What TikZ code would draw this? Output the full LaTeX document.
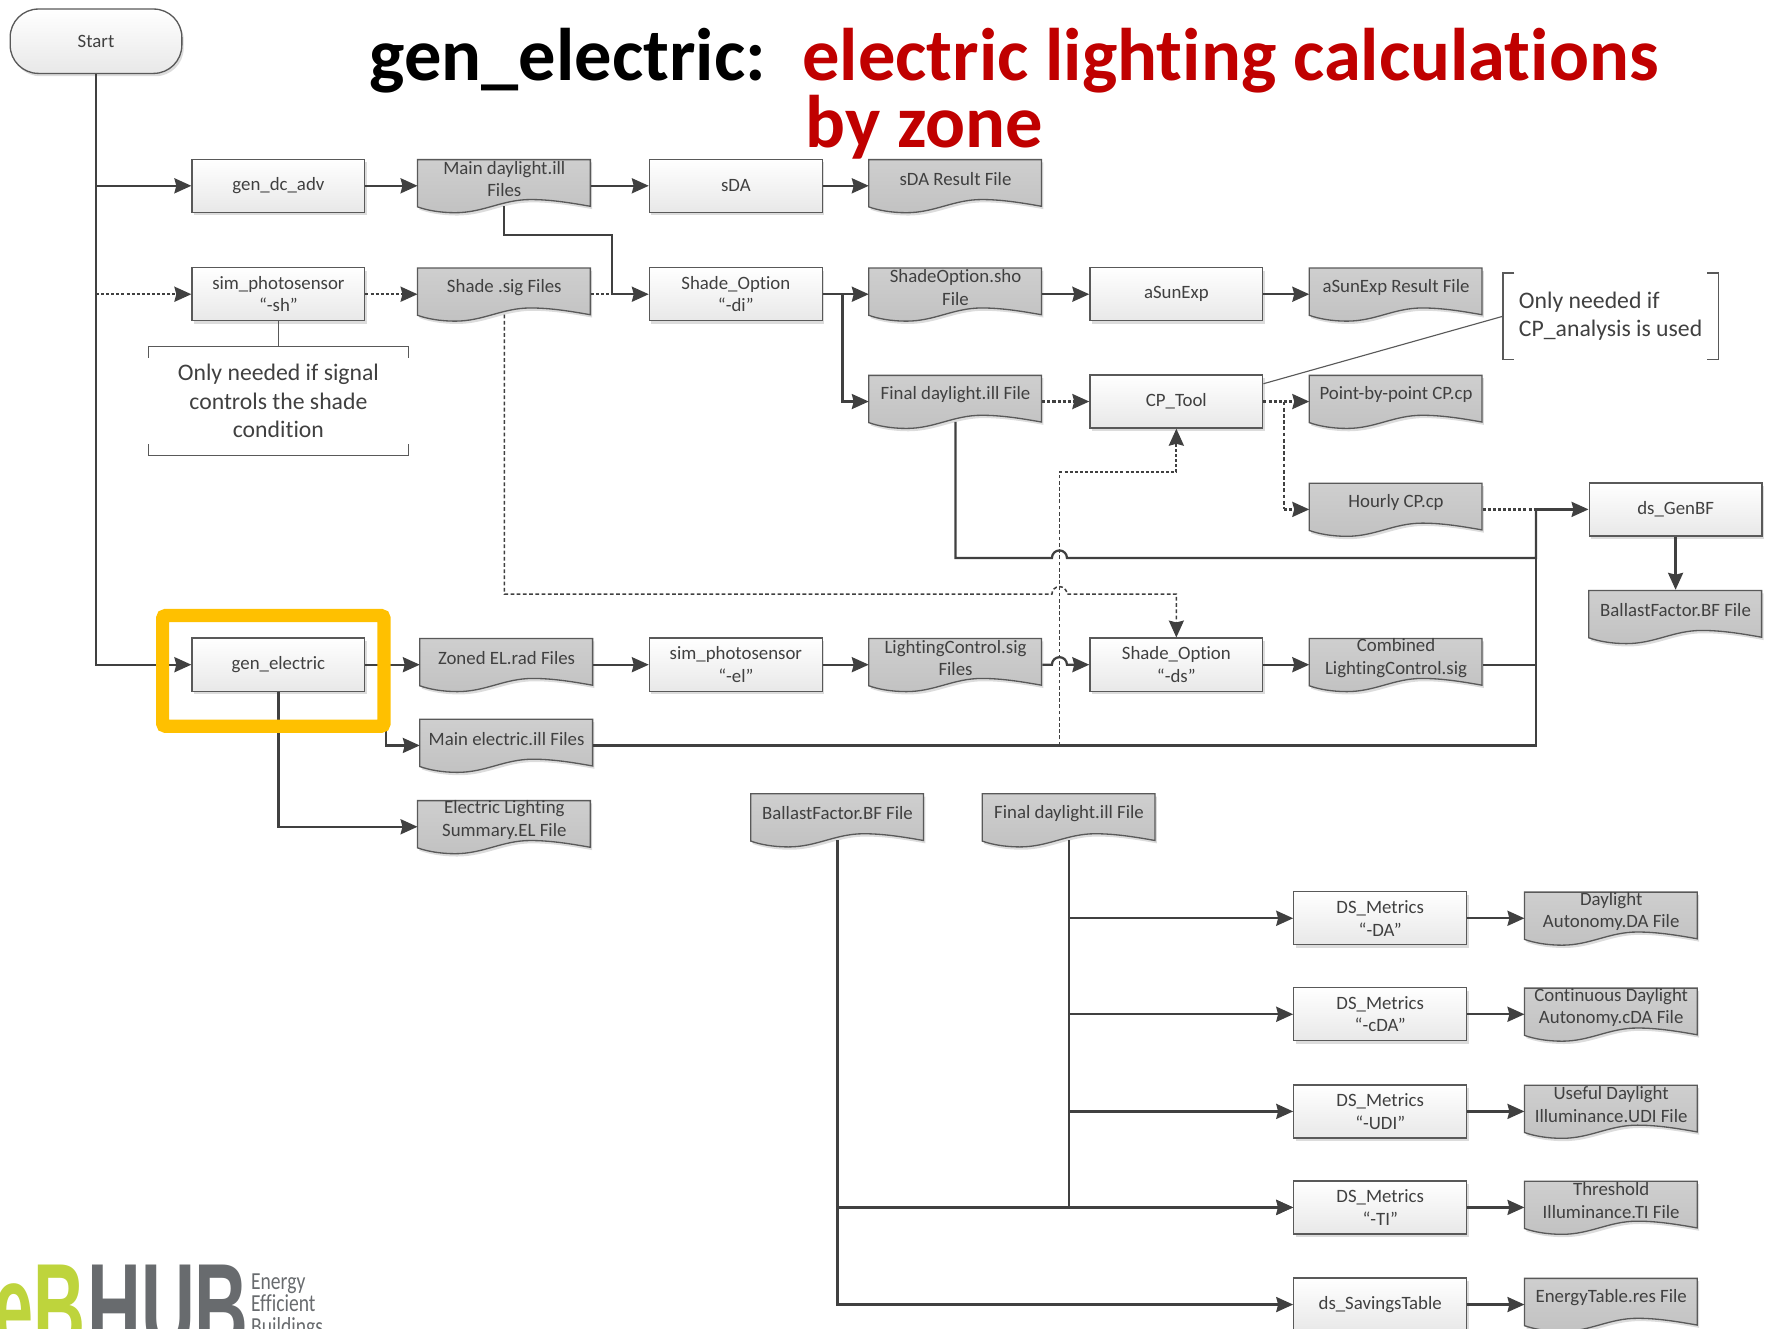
\documentclass[tikz,border=0pt]{standalone}
\usepackage{fontspec}
\setmainfont[Ligatures=CommonOff]{Carlito}
\newfontfamily\logofont{Liberation Sans}
\usetikzlibrary{arrows.meta,shadows}

% wavy outline of a document box, from its lower left corner
\newcommand{\docoutline}{(0pt,28.2pt) -- (91.8pt,28.2pt) -- (91.8pt,3.4pt) .. controls (80pt,5.5pt) and (70pt,7pt) .. (60pt,7pt) .. controls (45pt,7pt) and (35pt,0pt) .. (20pt,0pt) .. controls (12pt,0pt) and (5pt,1.3pt) .. (0pt,3.1pt) -- cycle}

\begin{document}
\begin{tikzpicture}[x=0.6pt,y=-0.6pt,
    softshadow/.style={drop shadow={shadow xshift=1pt,shadow yshift=-1.5pt,fill=black!30,opacity=0.45}},
    procbox/.style={rectangle,draw=BoxLine,line width=0.7pt,top color=white,bottom color=black!9,softshadow,
        minimum width=91.8pt,minimum height=28.2pt,inner sep=0pt,align=center,text=BoxText,
        font=\fontsize{10}{12}\selectfont},
    startbox/.style={procbox,minimum width=91.2pt,minimum height=34.2pt,rounded corners=15pt},
    docshape/.style={draw=BoxLine,line width=0.7pt,top color=black!19,bottom color=black!24,softshadow},
    docbox/.style={rectangle,minimum width=91.8pt,minimum height=28.2pt,inner sep=0pt,
        append after command={\pgfextra{\draw[docshape,shift={(\tikzlastnode.south west)}] \docoutline;}}},
    doctext/.style={align=center,yshift=3.6pt,inner sep=0pt,text=BoxText,font=\fontsize{10}{12}\selectfont},
    notebox/.style={inner sep=0pt,text=BoxText,font=\fontsize{12.6}{15.3}\selectfont},
    noteline/.style={draw=BoxLine,line width=0.6pt},
    flow/.style={draw=FlowLine,line width=1.2pt},
    flowarrow/.style={flow,-{Stealth[length=9pt,width=8pt,inset=1pt]}},
    dotflow/.style={flow,dash pattern=on 1.6pt off 1.1pt},
    dotarrow/.style={flowarrow,dash pattern=on 1.6pt off 1.1pt},
    thindot/.style={draw=FlowLine,line width=0.8pt,dash pattern=on 2pt off 1.3pt},
    thinarrow/.style={thindot,-{Stealth[length=9pt,width=8pt,inset=1pt]}},
    hilitebox/.style={draw=Hilite,line width=7pt,rounded corners=1.5pt,minimum width=117.6pt,minimum height=58.8pt,inner sep=0pt}]

    % colours
    \definecolor{BoxLine}{RGB}{89, 89, 89}
    \definecolor{BoxText}{RGB}{64, 64, 64}
    \definecolor{FlowLine}{RGB}{64, 64, 64}
    \definecolor{Hilite}{RGB}{255, 192, 0}
    \definecolor{TitleRed}{RGB}{192, 0, 0}
    \definecolor{LogoGreen}{RGB}{190, 212, 60}
    \definecolor{LogoGrey}{RGB}{104, 107, 110}

    \useasboundingbox (0,0) rectangle (1568,1176);

    % title
    \node[anchor=base west,inner sep=0pt,font=\fontsize{39.6}{44}\bfseries\selectfont] (titlename) at (327,71.5) {gen\_electric:};
    \node[anchor=base west,inner sep=0pt,text=TitleRed,font=\fontsize{39.6}{44}\bfseries\selectfont] (titleline) at (710,71.5) {electric lighting calculations};
    \node[anchor=base west,inner sep=0pt,text=TitleRed,font=\fontsize{39.6}{44}\bfseries\selectfont] (titlezone) at (713,131) {by zone};

    % upper rows
    \node[startbox] (start) at (85,36.5) {Start};
    \node[procbox] (gendc) at (246.5,164.5) {gen\_dc\_adv};
    \node[docbox,label={[doctext]center:Main daylight.ill\\Files}] (maindl) at (446.5,164.5) {};
    \node[procbox] (sda) at (651.5,164.5) {sDA};
    \node[docbox,label={[doctext]center:sDA Result File}] (sdares) at (846,164.5) {};

    \node[procbox] (simsh) at (246.5,260.5) {sim\_photosensor\\“-sh”};
    \node[docbox,label={[doctext]center:Shade .sig Files}] (shadesig) at (446.5,260.5) {};
    \node[procbox] (optdi) at (651.5,260.5) {Shade\_Option\\“-di”};
    \node[docbox,label={[doctext]center:ShadeOption.sho\\File}] (shadesho) at (846,260.5) {};
    \node[procbox] (asun) at (1041.5,260.5) {aSunExp};
    \node[docbox,label={[doctext]center:aSunExp Result File}] (asunres) at (1236,260.5) {};

    \node[docbox,label={[doctext]center:Final daylight.ill File}] (finaldl) at (846,355.5) {};
    \node[procbox] (cptool) at (1041.5,355.5) {CP\_Tool};
    \node[docbox,label={[doctext]center:Point-by-point CP.cp}] (pointcp) at (1236,355.5) {};
    \node[docbox,label={[doctext]center:Hourly CP.cp}] (hourly) at (1236,451) {};
    \node[procbox] (genbf) at (1483.5,451) {ds\_GenBF};
    \node[docbox,label={[doctext]center:BallastFactor.BF File}] (bfres) at (1483.5,546) {};

    % notes
    \node[notebox,align=center,minimum width=137.4pt,minimum height=57.6pt] (notesh) at (246.5,355) {Only needed if signal\\controls the shade\\condition};
    \node[notebox,align=left,minimum width=114pt,minimum height=45.6pt] (notecp) at (1426,280) {Only needed if\\CP\_analysis is used};

    % electric row
    \node[procbox] (genel) at (246.5,588.5) {gen\_electric};
    \node[docbox,label={[doctext]center:Zoned EL.rad Files}] (zoned) at (448.5,588.5) {};
    \node[procbox] (simel) at (651.5,588.5) {sim\_photosensor\\“-el”};
    \node[docbox,label={[doctext]center:LightingControl.sig\\Files}] (lightsig) at (846,588.5) {};
    \node[procbox] (optds) at (1041.5,588.5) {Shade\_Option\\“-ds”};
    \node[docbox,label={[doctext]center:Combined\\LightingControl.sig}] (combined) at (1236,588.5) {};
    \node[docbox,label={[doctext]center:Main electric.ill Files}] (mainel) at (448.5,660) {};
    \node[docbox,label={[doctext]center:Electric Lighting\\Summary.EL File}] (summary) at (446.5,732) {};

    % metrics
    \node[docbox,label={[doctext]center:BallastFactor.BF File}] (bfin) at (741.5,726) {};
    \node[docbox,label={[doctext]center:Final daylight.ill File}] (fdin) at (946.5,726) {};
    \node[procbox] (dsda) at (1222,813) {DS\_Metrics\\“-DA”};
    \node[docbox,label={[doctext]center:Daylight\\Autonomy.DA File}] (dares) at (1426.5,813) {};
    \node[procbox] (dscda) at (1222,898) {DS\_Metrics\\“-cDA”};
    \node[docbox,label={[doctext]center:Continuous Daylight\\Autonomy.cDA File}] (cdares) at (1426.5,898) {};
    \node[procbox] (dsudi) at (1222,984) {DS\_Metrics\\“-UDI”};
    \node[docbox,label={[doctext]center:Useful Daylight\\Illuminance.UDI File}] (udires) at (1426.5,984) {};
    \node[procbox] (dsti) at (1222,1069) {DS\_Metrics\\“-TI”};
    \node[docbox,label={[doctext]center:Threshold\\Illuminance.TI File}] (tires) at (1426.5,1069) {};
    \node[procbox] (saving) at (1222,1155) {ds\_SavingsTable};
    \node[docbox,label={[doctext]center:EnergyTable.res File}] (energy) at (1426.5,1155) {};

    % bends and line hops
    \coordinate (jogdi) at (542,208);
    \coordinate (splitdi) at (746,260.5);
    \coordinate (splitcp) at (1137,355.5);
    \coordinate (bus) at (1360,451);
    \coordinate (hopbus) at (938,494);
    \coordinate (hopdot) at (938,526);
    \coordinate (hopel) at (938,588.5);
    \coordinate (cpdrop) at (938,660);
    \coordinate (cpturn) at (938,418);
    \coordinate (splitel) at (342,588.5);

    % start line
    \draw[flowarrow] (start.south) |- (genel.west);
    \draw[flowarrow] (start.south |- gendc.west) -- (gendc.west);
    \draw[dotarrow] (start.south |- simsh.west) -- (simsh.west);

    % first rows
    \draw[flowarrow] (gendc.east) -- (maindl.west);
    \draw[flowarrow] (maindl.east) -- (sda.west);
    \draw[flowarrow] (sda.east) -- (sdares.west);
    \draw[dotarrow] (simsh.east) -- (shadesig.west);
    \draw[dotflow] (shadesig.east) -- (jogdi |- optdi.west);
    \draw[flowarrow] ([yshift=3.5pt]maindl.south) |- (jogdi) |- (optdi.west);
    \draw[flowarrow] (optdi.east) -- (shadesho.west);
    \draw[flowarrow] (splitdi) |- (finaldl.west);
    \draw[flowarrow] (shadesho.east) -- (asun.west);
    \draw[flowarrow] (asun.east) -- (asunres.west);
    \draw[dotarrow] (finaldl.east) -- (cptool.west);
    \draw[dotarrow] (cptool.east) -- (pointcp.west);
    \draw[thindot] (splitcp) -- (splitcp |- hourly.west);
    \draw[dotarrow] (splitcp |- hourly.west) -- (hourly.west);
    \draw[dotflow] (hourly.east) -- (bus);
    \draw[flowarrow] (bus) -- (genbf.west);
    \draw[flowarrow] (genbf.south) -- (bfres.north);

    % note leaders
    \draw[noteline] (simsh.south) -- (notesh.north);
    \draw[noteline] ([yshift=-6pt]notesh.north west) -- (notesh.north west) -- (notesh.north east) -- ([yshift=-6pt]notesh.north east);
    \draw[noteline] ([yshift=6pt]notesh.south west) -- (notesh.south west) -- (notesh.south east) -- ([yshift=6pt]notesh.south east);
    \draw[noteline] ([xshift=6pt]notecp.north west) -- (notecp.north west) -- (notecp.south west) -- ([xshift=6pt]notecp.south west);
    \draw[noteline] ([xshift=-6pt]notecp.north east) -- (notecp.north east) -- (notecp.south east) -- ([xshift=-6pt]notecp.south east);
    \draw[noteline] ([yshift=-5pt]cptool.north east) -- (notecp.west);

    % lines with hops
    \draw[flow] ([yshift=3.5pt]finaldl.south) |- ([xshift=-4pt]hopbus) arc[start angle=180,end angle=0,radius=4pt] -- (hopbus -| bus) -- (bus);
    \draw[thinarrow] ([yshift=3.5pt]shadesig.south) |- ([xshift=-4pt]hopdot) arc[start angle=180,end angle=0,radius=4pt] -| (optds.north);
    \draw[flowarrow] (lightsig.east) -- ([xshift=-4pt]hopel) arc[start angle=180,end angle=0,radius=4pt] -- (optds.west);
    \draw[thindot] (cpdrop) -- (cpturn);
    \draw[dotarrow] (cpturn) -| (cptool.south);

    % electric row
    \draw[flowarrow] (genel.east) -- (zoned.west);
    \draw[flowarrow] (splitel) |- (mainel.west);
    \draw[flowarrow] (genel.south) |- (summary.west);
    \draw[flowarrow] (zoned.east) -- (simel.west);
    \draw[flowarrow] (simel.east) -- (lightsig.west);
    \draw[flowarrow] (optds.east) -- (combined.west);
    \draw[flow] (combined.east) -| (bus);
    \draw[flow] (mainel.east) -| (bus);

    % metrics lines
    \draw[flowarrow] ([yshift=3.5pt]fdin.south) |- (dsda.west);
    \draw[flowarrow] ([yshift=3.5pt]fdin.south) |- (dscda.west);
    \draw[flowarrow] ([yshift=3.5pt]fdin.south) |- (dsudi.west);
    \draw[flowarrow] ([yshift=3.5pt]fdin.south) |- (dsti.west);
    \draw[flowarrow] ([yshift=3.5pt]bfin.south) |- (dsti.west);
    \draw[flowarrow] ([yshift=3.5pt]bfin.south) |- (saving.west);
    \draw[flowarrow] (dsda.east) -- (dares.west);
    \draw[flowarrow] (dscda.east) -- (cdares.west);
    \draw[flowarrow] (dsudi.east) -- (udires.west);
    \draw[flowarrow] (dsti.east) -- (tires.west);
    \draw[flowarrow] (saving.east) -- (energy.west);

    % highlight
    \node[hilitebox] (hilite) at (242,594) {};

    % logo
    \node[anchor=north east,inner sep=0pt,text=LogoGreen,font=\logofont\fontsize{66}{66}\bfseries\selectfont] (logoeb) at (76,1120) {\scalebox{0.58}[1]{eB}};
    \node[anchor=north west,inner sep=0pt,text=LogoGrey,font=\logofont\fontsize{66}{66}\bfseries\selectfont] (logohub) at (77,1120) {\scalebox{0.6}[1]{HUB}};
    \node[anchor=north west,inner sep=0pt,align=left,text=LogoGrey,font=\fontsize{13}{12}\selectfont] (logotext) at (222,1127) {\scalebox{0.8}[1]{Energy}\\\scalebox{0.8}[1]{Efficient}\\\scalebox{0.8}[1]{Buildings}};

\end{tikzpicture}
\end{document}
